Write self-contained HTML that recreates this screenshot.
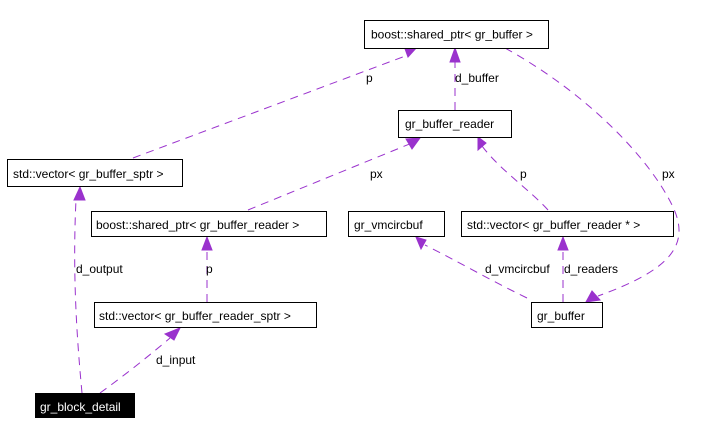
<!DOCTYPE html>
<html><head><meta charset="utf-8"><style>
html,body{margin:0;padding:0;background:#fff;width:723px;height:435px;overflow:hidden}
text{font-family:"Liberation Sans",sans-serif;font-size:12px;fill:#000}
.e{fill:none;stroke:#9a32cd;stroke-dasharray:8,6;stroke-width:1}
.a{fill:#9a32cd;stroke:#9a32cd}
.b{fill:#fff;stroke:#000;stroke-width:1}
</style></head><body>
<svg width="723" height="435" xmlns="http://www.w3.org/2000/svg">
<path class="e" d="M133,158 L408,55"/>
<polygon class="a" points="404,46 418,46 408,57"/>
<path class="e" d="M455,110 L455,60"/>
<polygon class="a" points="450,62 460,62 455,48"/>
<path class="e" d="M505,48 C590,95 650,160 672,205 C692,245 670,270 598,296"/>
<polygon class="a" points="592,291 600,300 586,302"/>
<path class="e" d="M248,210 L412,143"/>
<polygon class="a" points="406,139 420,138 412,149"/>
<path class="e" d="M548,210 C530,190 500,170 482,146"/>
<polygon class="a" points="478,150 486,143 478,137"/>
<path class="e" d="M207,302 L207,248"/>
<polygon class="a" points="202,250 212,250 207,237"/>
<path class="e" d="M527,298 C490,280 455,260 425,245"/>
<polygon class="a" points="421,249 426,240 416,237"/>
<path class="e" d="M563,302 L563,248"/>
<polygon class="a" points="558,250 568,250 563,237"/>
<path class="e" d="M100,393 C125,375 150,355 170,338"/>
<polygon class="a" points="165,334 174,340 180,328"/>
<path class="e" d="M82,393 C78,350 72,280 76,200"/>
<polygon class="a" points="80,187 85,200 74,200"/>
<rect class="b" x="364.5" y="20.5" width="184" height="28"/>
<text x="371" y="38.5">boost::shared_ptr&lt; gr_buffer &gt;</text>
<rect class="b" x="398.5" y="110.5" width="113" height="27"/>
<text x="405" y="128">gr_buffer_reader</text>
<rect class="b" x="7.5" y="159.5" width="175" height="27"/>
<text x="13" y="178">std::vector&lt; gr_buffer_sptr &gt;</text>
<rect class="b" x="91.5" y="211.5" width="235" height="25"/>
<text x="96" y="229">boost::shared_ptr&lt; gr_buffer_reader &gt;</text>
<rect class="b" x="348.5" y="211.5" width="96" height="25"/>
<text x="354" y="229">gr_vmcircbuf</text>
<rect class="b" x="461.5" y="211.5" width="212" height="25"/>
<text x="467" y="229">std::vector&lt; gr_buffer_reader * &gt;</text>
<rect class="b" x="94.5" y="302.5" width="222" height="25"/>
<text x="99" y="320">std::vector&lt; gr_buffer_reader_sptr &gt;</text>
<rect class="b" x="531.5" y="302.5" width="71" height="25"/>
<text x="537" y="320">gr_buffer</text>
<rect x="35" y="393" width="100" height="25" fill="#000"/>
<text x="40" y="411" style="fill:#fff">gr_block_detail</text>
<text x="366" y="82">p</text>
<text x="455" y="82">d_buffer</text>
<text x="370" y="178">px</text>
<text x="520" y="178">p</text>
<text x="662" y="178">px</text>
<text x="76" y="273">d_output</text>
<text x="206" y="273">p</text>
<text x="485" y="273">d_vmcircbuf</text>
<text x="564" y="273">d_readers</text>
<text x="156" y="364">d_input</text>
</svg>
</body></html>
